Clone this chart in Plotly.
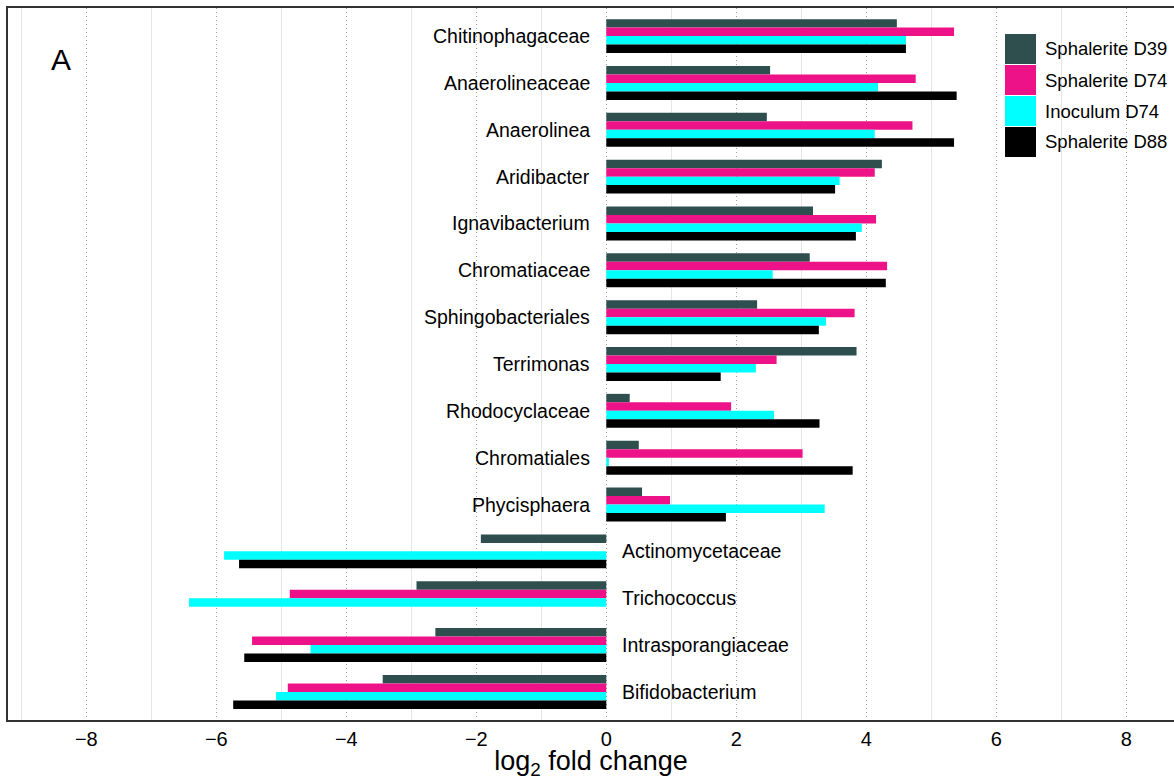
import plotly.graph_objects as go

categories = ["Chitinophagaceae", "Anaerolineaceae", "Anaerolinea", "Aridibacter",
              "Ignavibacterium", "Chromatiaceae", "Sphingobacteriales", "Terrimonas",
              "Rhodocyclaceae", "Chromatiales", "Phycisphaera", "Actinomycetaceae",
              "Trichococcus", "Intrasporangiaceae", "Bifidobacterium"]
series_names = ["Sphalerite D39", "Sphalerite D74", "Inoculum D74", "Sphalerite D88"]
sphalerite_d39 = [4.47, 2.52, 2.47, 4.24, 3.18, 3.13, 2.32, 3.85, 0.36, 0.50, 0.55, -1.93, -2.92, -2.63, -3.44]
sphalerite_d74 = [5.35, 4.76, 4.71, 4.13, 4.15, 4.32, 3.82, 2.62, 1.92, 3.02, 0.98, None, -4.87, -5.45, -4.90]
inoculum_d74 = [4.61, 4.18, 4.13, 3.59, 3.93, 2.56, 3.38, 2.30, 2.58, 0.04, 3.36, -5.88, -6.42, -4.55, -5.08]
sphalerite_d88 = [4.61, 5.39, 5.35, 3.52, 3.84, 4.30, 3.27, 1.76, 3.28, 3.79, 1.84, -5.65, None, -5.57, -5.74]
series_values = [sphalerite_d39, sphalerite_d74, inoculum_d74, sphalerite_d88]
colors = ["#2F4F4F", "#EE1289", "#00FFFF", "#000000"]
x_ticks = [-8, -6, -4, -2, 0, 2, 4, 6, 8]
panel_label = "A"

W, H = 1174, 780
ML, MR, MT, MB = 8, 0, 8, 60
PW, PH = W - ML - MR, H - MT - MB
FONT = "Liberation Sans, Arial, sans-serif"


def px_x(p):
    return (p - ML) / PW


def px_y(p):
    return (H - MB - p) / PH


fig = go.Figure()
for name, vals, col in zip(series_names, series_values, colors):
    fig.add_trace(go.Bar(
        y=categories, x=vals, orientation="h", name=name,
        marker=dict(color=col, line=dict(width=0)), showlegend=False,
    ))

annotations = []
for i, cat in enumerate(categories):
    vals = [s[i] for s in series_values if s[i] is not None]
    positive = sum(vals) >= 0
    annotations.append(dict(
        x=0, y=cat, xref="x", yref="y", text=cat, showarrow=False,
        xanchor="right" if positive else "left", yanchor="middle",
        xshift=-14 if positive else 14,
        font=dict(family=FONT, size=19.5, color="#000000"),
    ))

annotations.append(dict(
    x=px_x(61), y=px_y(60), xref="paper", yref="paper", text=panel_label,
    showarrow=False, xanchor="center", yanchor="middle",
    font=dict(family=FONT, size=30, color="#000000"),
))

shapes = []
sw_left, sw_right, sw_top, sw_h = 1005, 1036, 34, 31
for i, (name, col) in enumerate(zip(series_names, colors)):
    y0 = sw_top + i * sw_h
    shapes.append(dict(
        type="rect", xref="paper", yref="paper",
        x0=px_x(sw_left), x1=px_x(sw_right), y0=px_y(y0 + sw_h - 1), y1=px_y(y0),
        fillcolor=col, line=dict(width=0), layer="above",
    ))
    annotations.append(dict(
        x=px_x(1043), y=px_y(y0 + (sw_h - 1) / 2), xref="paper", yref="paper",
        text=name, showarrow=False, xanchor="left", yanchor="middle",
        font=dict(family=FONT, size=18.5, color="#000000"),
    ))

x_min = (ML - 606.3) / 65.0
x_max = (W - 606.3) / 65.0

fig.update_layout(
    width=W, height=H,
    margin=dict(l=ML, r=MR, t=MT, b=MB),
    paper_bgcolor="white", plot_bgcolor="white",
    barmode="group", bargap=0.275, bargroupgap=0,
    annotations=annotations, shapes=shapes,
    font=dict(family=FONT, color="#000000"),
    xaxis=dict(
        range=[x_min, x_max], tickmode="array", tickvals=x_ticks,
        showgrid=True, gridcolor="#a0a0a0", griddash="1px,3px", gridwidth=1,
        minor=dict(tick0=1, dtick=2, showgrid=True, gridcolor="#e6e6e6",
                   gridwidth=1, griddash="solid", ticks=""),
        zeroline=False, showline=True, linecolor="#333333", linewidth=2, mirror=True,
        ticks="", tickfont=dict(size=20, color="#000000"),
        title=dict(text="log<sub>2</sub> fold change", font=dict(size=27, color="#000000"), standoff=3),
    ),
    yaxis=dict(
        range=[14.6, -0.6], showticklabels=False, showgrid=False, zeroline=False,
        showline=True, linecolor="#333333", linewidth=2, mirror=False, ticks="",
    ),
)

fig.write_html("out.html")
